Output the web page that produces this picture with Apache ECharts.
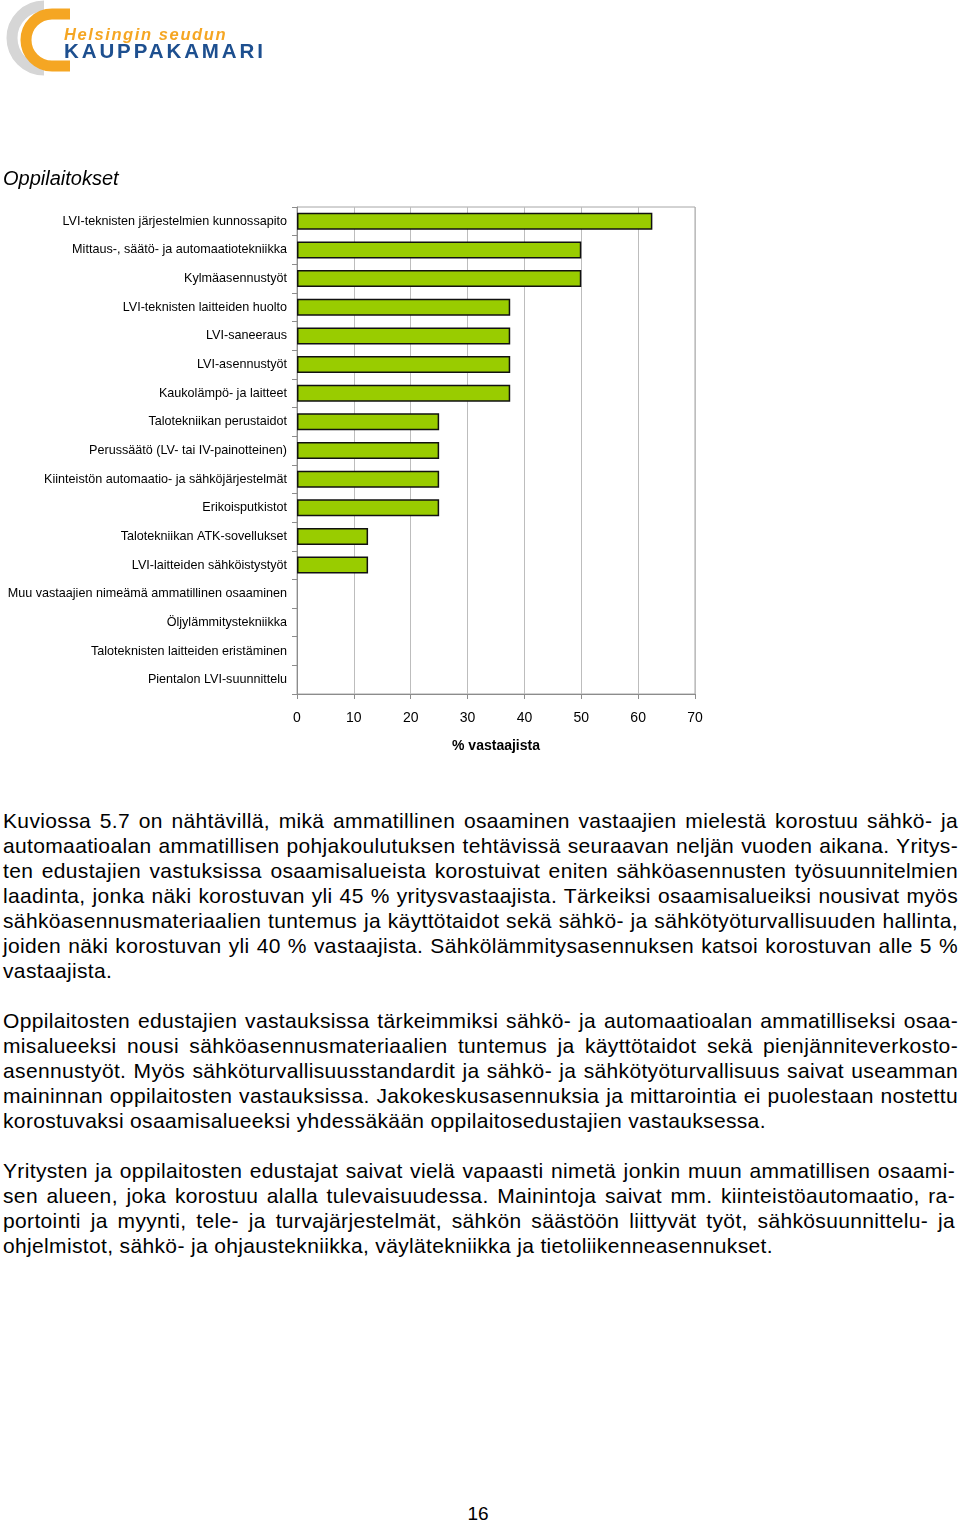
<!DOCTYPE html>
<html>
<head>
<meta charset="utf-8">
<script src="https://cdn.jsdelivr.net/npm/echarts@6/dist/echarts.min.js"></script>
<style>
  html, body { margin: 0; padding: 0; background: #fff; }
  #page { position: relative; width: 960px; height: 1522px; overflow: hidden; font-family: "Liberation Sans", Arial, sans-serif; }
  #chart { position: absolute; left: 0; top: 0; width: 960px; height: 770px; }
  #logo { position: absolute; left: 0; top: 0; }
  .ln { position: absolute; left: 3px; height: 25px; line-height: 25px; font-size: 21px; letter-spacing: 0.35px; color: #000; text-align: justify; text-align-last: justify; }
  .ln.last { text-align: left; text-align-last: left; }
  #pnum { position: absolute; left: 0; width: 956px; text-align: center; top: 1502px; font-size: 19px; line-height: 24px; }
</style>
</head>
<body>
<div id="page">
  <div id="chart"></div>
  <svg id="logo" width="280" height="90" viewBox="0 0 280 90">
    <path d="M 44 6 A 32 32 0 1 0 44 70" fill="none" stroke="#d6d6d6" stroke-width="11"/>
    <path d="M 70 14 L 52 14 A 26 26 0 0 0 52 66 L 70 66" fill="none" stroke="#f5a623" stroke-width="11"/>
    <text x="64" y="40" font-family="Liberation Sans, Arial, sans-serif" font-size="16.5" font-weight="bold" font-style="italic" fill="#f5a623" letter-spacing="1.6">Helsingin seudun</text>
    <text x="64" y="58" font-family="Liberation Sans, Arial, sans-serif" font-size="20.5" font-weight="bold" fill="#1d4f8f" letter-spacing="2.9">KAUPPAKAMARI</text>
  </svg>
  <div id="text"></div>
  <div id="pnum">16</div>
</div>
<script>
// ---- data ----
const categories = [
  "LVI-teknisten järjestelmien kunnossapito",
  "Mittaus-, säätö- ja automaatiotekniikka",
  "Kylmäasennustyöt",
  "LVI-teknisten laitteiden huolto",
  "LVI-saneeraus",
  "LVI-asennustyöt",
  "Kaukolämpö- ja laitteet",
  "Talotekniikan perustaidot",
  "Perussäätö (LV- tai IV-painotteinen)",
  "Kiinteistön automaatio- ja sähköjärjestelmät",
  "Erikoisputkistot",
  "Talotekniikan ATK-sovellukset",
  "LVI-laitteiden sähköistystyöt",
  "Muu vastaajien nimeämä ammatillinen osaaminen",
  "Öljylämmitystekniikka",
  "Taloteknisten laitteiden eristäminen",
  "Pientalon LVI-suunnittelu"
];
const values = [62.5, 50, 50, 37.5, 37.5, 37.5, 37.5, 25, 25, 25, 25, 12.5, 12.5, 0, 0, 0, 0];
const xTickLabels = ["0", "10", "20", "30", "40", "50", "60", "70"];
const chartTitle = "Oppilaitokset";
const xAxisTitle = "% vastaajista";

const paragraphs = [
  [
    "Kuviossa 5.7 on nähtävillä, mikä ammatillinen osaaminen vastaajien mielestä korostuu sähkö- ja",
    "automaatioalan ammatillisen pohjakoulutuksen tehtävissä seuraavan neljän vuoden aikana. Yritys-",
    "ten edustajien vastuksissa osaamisalueista korostuivat eniten sähköasennusten työsuunnitelmien",
    "laadinta, jonka näki korostuvan yli 45 % yritysvastaajista. Tärkeiksi osaamisalueiksi nousivat myös",
    "sähköasennusmateriaalien tuntemus ja käyttötaidot sekä sähkö- ja sähkötyöturvallisuuden hallinta,",
    "joiden näki korostuvan yli 40 % vastaajista. Sähkölämmitysasennuksen katsoi korostuvan alle 5 %",
    "vastaajista."
  ],
  [
    "Oppilaitosten edustajien vastauksissa tärkeimmiksi sähkö- ja automaatioalan ammatilliseksi osaa-",
    "misalueeksi nousi sähköasennusmateriaalien tuntemus ja käyttötaidot sekä pienjänniteverkosto-",
    "asennustyöt. Myös sähköturvallisuusstandardit ja sähkö- ja sähkötyöturvallisuus saivat useamman",
    "maininnan oppilaitosten vastauksissa. Jakokeskusasennuksia ja mittarointia ei puolestaan nostettu",
    "korostuvaksi osaamisalueeksi yhdessäkään oppilaitosedustajien vastauksessa."
  ],
  [
    "Yritysten ja oppilaitosten edustajat saivat vielä vapaasti nimetä jonkin muun ammatillisen osaami-",
    "sen alueen, joka korostuu alalla tulevaisuudessa. Mainintoja saivat mm. kiinteistöautomaatio, ra-",
    "portointi ja myynti, tele- ja turvajärjestelmät, sähkön säästöön liittyvät työt, sähkösuunnittelu- ja",
    "ohjelmistot, sähkö- ja ohjaustekniikka, väylätekniikka ja tietoliikenneasennukset."
  ]
];

// ---- body text ----
(function () {
  const host = document.getElementById('text');
  const starts = [820, 1020, 1170];
  const widths = [955, 955, 952];
  paragraphs.forEach((lines, p) => {
    lines.forEach((t, i) => {
      const d = document.createElement('div');
      d.className = 'ln' + (i === lines.length - 1 ? ' last' : '');
      d.style.top = (starts[p] + i * 25 - 12.5) + 'px';
      d.style.width = widths[p] + 'px';
      d.textContent = t;
      host.appendChild(d);
    });
  });
})();

// ---- chart ----
const chart = echarts.init(document.getElementById('chart'), null, { renderer: 'canvas' });
const font = '"Liberation Sans", Arial, sans-serif';
const barData = values.map(v => v === 0 ? { value: v, itemStyle: { borderWidth: 0 } } : v);
chart.setOption({
  animation: false,
  backgroundColor: 'transparent',
  title: {
    text: chartTitle,
    left: 3,
    top: 169,
    padding: 0,
    textStyle: { fontFamily: font, fontSize: 20, fontStyle: 'italic', fontWeight: 'normal', color: '#000' }
  },
  grid: {
    left: 297, top: 207, width: 398, height: 487,
    show: true, borderColor: '#a6a6a6', borderWidth: 1, backgroundColor: 'transparent',
    containLabel: false
  },
  xAxis: {
    type: 'value',
    min: 0, max: 70, interval: 10,
    axisLine: { show: true, lineStyle: { color: '#8c8c8c', width: 1 } },
    axisTick: { show: true, length: 5, lineStyle: { color: '#8c8c8c' } },
    splitLine: { show: true, lineStyle: { color: '#bdbdbd', width: 1 } },
    axisLabel: {
      margin: 17, fontFamily: font, fontSize: 14, color: '#000',
      formatter: (v) => xTickLabels[Math.round(v / 10)] ?? ''
    },
    name: xAxisTitle,
    nameLocation: 'middle',
    nameGap: 45,
    nameTextStyle: { fontFamily: font, fontSize: 14, fontWeight: 'bold', color: '#000' }
  },
  yAxis: {
    type: 'category',
    data: categories,
    inverse: true,
    axisLine: { show: true, lineStyle: { color: '#8c8c8c', width: 1 } },
    axisTick: { show: true, length: 5, lineStyle: { color: '#8c8c8c' } },
    splitLine: { show: false },
    axisLabel: { margin: 10, fontFamily: font, fontSize: 12.6, color: '#000' }
  },
  series: [{
    type: 'bar',
    data: barData,
    barWidth: 17,
    itemStyle: { color: '#99cc00', borderColor: '#111', borderWidth: 1.5 }
  }]
});
</script>
</body>
</html>
